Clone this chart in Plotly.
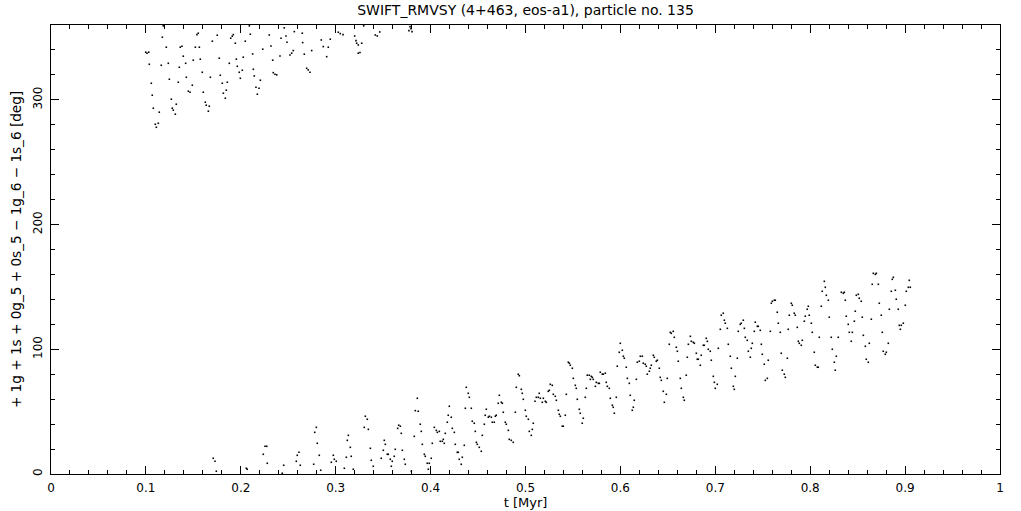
import plotly.graph_objects as go

TITLE = "SWIFT_RMVSY (4+463, eos-a1), particle no. 135"
X_LABEL = "t [Myr]"
Y_LABEL = "+ 1g + 1s + 0g_5 + 0s_5 \u2212 1g_6 \u2212 1s_6 [deg]"

x_tickvals = [0, 0.1, 0.2, 0.3, 0.4, 0.5, 0.6, 0.7, 0.8, 0.9, 1]
x_ticktext = ["0", "0.1", "0.2", "0.3", "0.4", "0.5", "0.6", "0.7", "0.8", "0.9", "1"]
y_tickvals = [0, 100, 200, 300]
y_ticktext = ["0", "100", "200", "300"]

# upper branch (angle near 280-360 deg)
t_upper = [
    0.1183, 0.1173, 0.1538, 0.1552, 0.1752, 0.1921, 0.1910, 0.1894, 0.1700, 0.1942,
    0.2047, 0.1215, 0.1362, 0.1380, 0.1521, 0.1563, 0.0998, 0.1012, 0.1030, 0.1394,
    0.1499, 0.1573, 0.1773, 0.2026, 0.1953, 0.1036, 0.1236, 0.1162, 0.1419, 0.1879,
    0.1352, 0.1963, 0.2016, 0.1984, 0.1594, 0.1784, 0.1679, 0.1426, 0.1995, 0.1247,
    0.1057, 0.1341, 0.1858, 0.1805, 0.1489, 0.1847, 0.1816, 0.1837, 0.1447, 0.1465,
    0.1605, 0.1067, 0.1268, 0.1626, 0.1636, 0.1668, 0.1658, 0.1320, 0.1078, 0.1278,
    0.1289, 0.1141, 0.1310, 0.1131, 0.1099, 0.1110, 0.2090, 0.2458, 0.3295, 0.3783,
    0.3793, 0.3804, 0.3772, 0.2100, 0.2300, 0.2424, 0.2476, 0.2564, 0.2648, 0.3027,
    0.3048, 0.3077, 0.3200, 0.3417, 0.3438, 0.3464, 0.2487, 0.2652, 0.2848, 0.2943,
    0.3214, 0.2318, 0.2869, 0.2922, 0.3221, 0.3238, 0.3274, 0.2231, 0.2553, 0.2536,
    0.2518, 0.2747, 0.2125, 0.2413, 0.2669, 0.2905, 0.3238, 0.3256, 0.2336, 0.2132,
    0.2694, 0.2711, 0.2729, 0.2142, 0.2342, 0.2360, 0.2378, 0.2206, 0.2160, 0.2192,
    0.2174,
]
angle_upper = [
    359.3, 350.2, 352.3, 353.4, 351.8, 352.3, 351.0, 349.4, 347.0, 345.4,
    347.0, 342.2, 342.2, 343.0, 342.2, 342.2, 338.2, 337.4, 338.2, 335.0,
    331.8, 332.6, 333.4, 334.2, 332.6, 328.5, 329.3, 327.7, 329.3, 329.3,
    326.1, 326.9, 323.7, 322.1, 322.1, 319.7, 318.1, 318.1, 317.3, 316.5,
    313.3, 314.1, 314.1, 313.3, 311.7, 307.7, 305.3, 301.3, 306.9, 306.1,
    306.1, 303.7, 300.5, 298.1, 295.7, 294.9, 290.9, 296.5, 293.3, 293.3,
    291.7, 290.1, 288.5, 281.2, 280.4, 278.0, 359.3, 357.7, 359.3, 358.7,
    357.1, 354.7, 355.5, 352.6, 352.0, 349.4, 351.2, 354.7, 353.4, 354.2,
    353.1, 352.3, 351.2, 352.0, 351.2, 354.4, 346.2, 345.9, 348.0, 348.6,
    347.5, 343.2, 342.7, 342.2, 345.4, 344.0, 345.4, 340.6, 339.5, 337.4,
    336.0, 339.5, 336.8, 335.2, 336.6, 334.6, 337.4, 337.9, 331.8, 324.5,
    325.3, 324.0, 322.1, 319.2, 321.8, 320.5, 320.0, 315.7, 310.1, 309.3,
    304.5,
]

# lower branch (angle rising from ~0 to ~160 deg)
t_lower = [
    0.1710, 0.1728, 0.1742, 0.2058, 0.2068, 0.2255, 0.2273, 0.2237, 0.2279, 0.2452,
    0.2437, 0.2595, 0.2613, 0.2585, 0.2627, 0.2796, 0.2779, 0.2806, 0.2827, 0.2768,
    0.2842, 0.2975, 0.2985, 0.3006, 0.2954, 0.3091, 0.3112, 0.3122, 0.3133, 0.3154,
    0.3164, 0.3185, 0.3301, 0.3312, 0.3333, 0.3344, 0.3365, 0.3375, 0.3396, 0.3480,
    0.3502, 0.3512, 0.3523, 0.3544, 0.3554, 0.3575, 0.3586, 0.3596, 0.3617, 0.3628,
    0.3653, 0.3664, 0.3681, 0.3691, 0.3702, 0.3723, 0.3733, 0.3797, 0.3828, 0.3839,
    0.3860, 0.3870, 0.3891, 0.3902, 0.3913, 0.3934, 0.3944, 0.3965, 0.3986, 0.3976,
    0.4007, 0.4018, 0.4039, 0.4060, 0.4071, 0.4092, 0.4102, 0.4123, 0.4134, 0.4144,
    0.4155, 0.4176, 0.4186, 0.4197, 0.4218, 0.4229, 0.4250, 0.4260, 0.4281, 0.4292,
    0.4302, 0.4323, 0.4334, 0.4355, 0.4366, 0.4376, 0.4397, 0.4408, 0.4429, 0.4439,
    0.4460, 0.4471, 0.4482, 0.4492, 0.4513, 0.4534, 0.4545, 0.4566, 0.4576, 0.4587,
    0.4608, 0.4619, 0.4640, 0.4650, 0.4671, 0.4682, 0.4692, 0.4713, 0.4724, 0.4745,
    0.4756, 0.4766, 0.4787, 0.4798, 0.4819, 0.4829, 0.4850, 0.4871, 0.4893, 0.4903,
    0.4924, 0.4935, 0.4956, 0.4966, 0.4977, 0.4998, 0.5008, 0.5030, 0.5040, 0.5061,
    0.5072, 0.5082, 0.5100, 0.5114, 0.5135, 0.5145, 0.5156, 0.5177, 0.5188, 0.5209,
    0.5219, 0.5240, 0.5251, 0.5261, 0.5282, 0.5293, 0.5314, 0.5325, 0.5346, 0.5356,
    0.5367, 0.5388, 0.5398, 0.5419, 0.5430, 0.5451, 0.5462, 0.5472, 0.5493, 0.5504,
    0.5525, 0.5535, 0.5546, 0.5567, 0.5577, 0.5598, 0.5609, 0.5630, 0.5641, 0.5651,
    0.5672, 0.5683, 0.5693, 0.5704, 0.5714, 0.5736, 0.5746, 0.5767, 0.5778, 0.5788,
    0.5809, 0.5820, 0.5841, 0.5851, 0.5862, 0.5883, 0.5894, 0.5915, 0.5925, 0.5936,
    0.5957, 0.5967, 0.5988, 0.5999, 0.6020, 0.6031, 0.6041, 0.6062, 0.6073, 0.6094,
    0.6104, 0.6125, 0.6136, 0.6146, 0.6168, 0.6178, 0.6199, 0.6210, 0.6231, 0.6241,
    0.6262, 0.6273, 0.6283, 0.6305, 0.6315, 0.6326, 0.6347, 0.6357, 0.6378, 0.6389,
    0.6410, 0.6420, 0.6431, 0.6452, 0.6463, 0.6484, 0.6494, 0.6515, 0.6526, 0.6536,
    0.6557, 0.6568, 0.6589, 0.6600, 0.6610, 0.6631, 0.6642, 0.6663, 0.6673, 0.6694,
    0.6705, 0.6716, 0.6737, 0.6747, 0.6768, 0.6779, 0.6800, 0.6810, 0.6821, 0.6842,
    0.6852, 0.6874, 0.6884, 0.6905, 0.6916, 0.6926, 0.6947, 0.6958, 0.6979, 0.6990,
    0.7000, 0.7021, 0.7032, 0.7053, 0.7063, 0.7084, 0.7095, 0.7105, 0.7127, 0.7137,
    0.7158, 0.7169, 0.7190, 0.7200, 0.7211, 0.7232, 0.7242, 0.7263, 0.7274, 0.7295,
    0.7306, 0.7316, 0.7337, 0.7348, 0.7369, 0.7379, 0.7390, 0.7411, 0.7421, 0.7443,
    0.7453, 0.7474, 0.7485, 0.7495, 0.7516, 0.7527, 0.7548, 0.7558, 0.7580, 0.7590,
    0.7601, 0.7622, 0.7632, 0.7653, 0.7664, 0.7685, 0.7695, 0.7706, 0.7727, 0.7738,
    0.7759, 0.7769, 0.7780, 0.7801, 0.7811, 0.7832, 0.7843, 0.7864, 0.7875, 0.7885,
    0.7906, 0.7917, 0.7938, 0.7948, 0.7969, 0.7980, 0.7990, 0.8012, 0.8022, 0.8043,
    0.8054, 0.8075, 0.8085, 0.8096, 0.8117, 0.8127, 0.8149, 0.8159, 0.8170, 0.8191,
    0.8201, 0.8222, 0.8233, 0.8254, 0.8264, 0.8275, 0.8296, 0.8328, 0.8349, 0.8359,
    0.8370, 0.8380, 0.8401, 0.8412, 0.8433, 0.8444, 0.8465, 0.8475, 0.8486, 0.8507,
    0.8517, 0.8538, 0.8549, 0.8560, 0.8581, 0.8591, 0.8612, 0.8623, 0.8644, 0.8654,
    0.8665, 0.8686, 0.8697, 0.8718, 0.8728, 0.8749, 0.8760, 0.8770, 0.8791, 0.8802,
    0.8823, 0.8834, 0.8855, 0.8865, 0.8876, 0.8897, 0.8907, 0.8928, 0.8939, 0.8950,
    0.8960, 0.8981, 0.9002, 0.9013, 0.9034, 0.9055, 0.9044,
]
angle_lower = [
    12.6, 10.2, 2.2, 4.6, 3.8, 22.2, 22.2, 15.8, 8.6, 7.0,
    0.6, 15.0, 17.4, 10.2, 7.0, 37.4, 33.4, 24.6, 15.0, 7.8,
    3.0, 15.0, 11.8, 10.2, 9.4, 4.6, 13.4, 27.0, 31.0, 21.4,
    14.2, 3.8, 37.4, 46.3, 43.9, 35.8, 20.6, 11.0, 6.2, 12.6,
    19.0, 27.0, 23.8, 15.8, 15.8, 11.8, 6.2, 10.2, 14.2, 19.8,
    36.6, 39.1, 38.3, 32.6, 19.0, 11.8, 7.8, 2.2, 30.2, 50.8,
    60.7, 50.3, 39.9, 34.2, 23.8, 15.8, 14.2, 8.6, 8.6, 3.8,
    12.6, 24.6, 37.4, 35.0, 33.4, 34.2, 26.2, 26.2, 27.8, 24.6,
    32.6, 41.5, 47.1, 54.3, 45.5, 36.6, 33.4, 23.8, 17.4, 17.4,
    11.8, 7.8, 13.4, 23.0, 52.7, 69.5, 64.7, 61.5, 52.7, 42.3,
    40.7, 34.2, 25.4, 23.8, 21.4, 18.2, 31.0, 39.9, 47.1, 51.9,
    45.5, 46.3, 45.5, 41.5, 41.5, 46.3, 47.1, 56.7, 63.1, 57.5,
    56.7, 49.5, 41.5, 39.9, 35.0, 27.8, 27.0, 25.4, 49.5, 69.5,
    80.0, 78.8, 67.9, 64.7, 59.9, 51.1, 46.3, 43.9, 34.2, 31.0,
    35.8, 40.7, 58.3, 61.5, 61.5, 64.7, 60.7, 57.5, 60.7, 58.3,
    57.5, 66.3, 67.1, 71.9, 71.1, 63.9, 62.3, 59.1, 51.1, 47.9,
    46.3, 38.3, 38.3, 47.1, 63.9, 89.6, 88.8, 87.2, 84.8, 76.7,
    71.1, 68.7, 59.9, 51.9, 48.7, 40.7, 44.7, 61.5, 68.7, 79.2,
    79.2, 75.9, 78.3, 77.5, 75.9, 70.3, 73.5, 72.7, 72.7, 81.6,
    80.0, 80.0, 80.8, 73.5, 70.3, 68.7, 60.7, 55.1, 53.5, 48.7,
    61.5, 86.4, 97.6, 104.8, 99.2, 94.4, 92.8, 85.6, 76.7, 72.7,
    63.1, 51.1, 53.5, 59.1, 75.9, 89.6, 90.4, 94.4, 94.4, 88.8,
    88.0, 86.4, 80.0, 82.4, 84.8, 87.2, 95.2, 93.6, 90.4, 91.2,
    84.8, 77.5, 75.1, 66.3, 57.5, 63.9, 76.7, 104.0, 113.6, 112.8,
    114.4, 109.6, 101.6, 98.4, 90.4, 76.7, 68.7, 61.5, 59.1, 79.2,
    93.6, 104.0, 110.4, 106.4, 105.6, 104.8, 96.8, 92.0, 92.0, 87.2,
    95.2, 103.2, 103.2, 108.8, 106.4, 100.0, 98.4, 91.2, 78.3, 73.5,
    68.7, 71.9, 100.8, 116.0, 127.3, 128.9, 123.3, 120.9, 116.8, 104.0,
    94.4, 84.8, 70.3, 67.9, 78.3, 92.8, 114.4, 120.0, 120.9, 123.3,
    116.8, 109.6, 107.2, 98.4, 93.6, 100.8, 104.8, 114.4, 121.7, 118.4,
    118.4, 115.2, 104.0, 96.0, 88.0, 75.1, 76.7, 91.2, 114.4, 136.9,
    138.5, 139.3, 139.3, 129.7, 120.9, 113.6, 96.8, 83.2, 80.0, 77.5,
    92.8, 116.0, 127.3, 136.9, 135.3, 128.9, 127.3, 117.6, 106.4, 104.8,
    103.2, 107.2, 122.5, 126.5, 132.1, 134.5, 127.3, 120.9, 113.6, 97.6,
    87.2, 85.6, 85.6, 109.6, 134.5, 146.5, 154.5, 149.7, 143.3, 139.3,
    125.7, 109.6, 100.0, 89.6, 83.2, 94.4, 109.6, 145.7, 144.9, 145.7,
    139.3, 126.5, 120.0, 113.6, 106.4, 113.6, 122.5, 130.5, 143.3, 144.1,
    140.9, 138.5, 125.7, 111.2, 102.4, 92.0, 89.6, 104.8, 124.1, 152.1,
    160.9, 160.1, 160.9, 152.1, 136.9, 127.3, 113.6, 98.4, 96.0, 97.6,
    104.8, 132.1, 146.5, 156.1, 157.7, 147.3, 140.1, 132.1, 119.2, 116.0,
    119.2, 120.9, 135.3, 146.5, 149.7, 149.7, 155.3,
]

t_all = t_upper + t_lower
angle_all = angle_upper + angle_lower

FONT = "DejaVu Sans"

fig = go.Figure(
    go.Scatter(
        x=t_all,
        y=angle_all,
        mode="markers",
        marker=dict(symbol="square", size=1.6, color="black", line=dict(width=0)),
        hoverinfo="x+y",
    )
)

axis_common = dict(
    showgrid=False,
    zeroline=False,
    showline=True,
    linecolor="black",
    linewidth=1,
    mirror="allticks",
    ticks="inside",
    ticklen=8,
    tickwidth=1,
    tickcolor="black",
    automargin=False,
    tickfont=dict(family=FONT, size=12, color="black"),
)

fig.update_layout(
    width=1021,
    height=511,
    paper_bgcolor="white",
    plot_bgcolor="white",
    margin=dict(l=51, r=21, t=25, b=37),
    showlegend=False,
    title=dict(
        text=TITLE,
        x=0.5,
        xref="paper",
        xanchor="center",
        y=1 - 10 / 511,
        yref="container",
        yanchor="middle",
        font=dict(family=FONT, size=14, color="black"),
    ),
    xaxis=dict(
        range=[0, 1],
        tickvals=x_tickvals,
        ticktext=x_ticktext,
        ticklabelstandoff=3,
        minor=dict(dtick=0.02, ticks="inside", ticklen=4, tickcolor="black", showgrid=False),
        title=dict(text=X_LABEL, font=dict(family=FONT, size=13, color="black"), standoff=3),
        **axis_common,
    ),
    yaxis=dict(
        range=[0, 360],
        tickvals=y_tickvals,
        ticktext=y_ticktext,
        tickangle=-90,
        ticklabelstandoff=3,
        minor=dict(dtick=20, ticks="inside", ticklen=4, tickcolor="black", showgrid=False),
        title=dict(text=Y_LABEL, font=dict(family=FONT, size=13.6, color="black"), standoff=6),
        **axis_common,
    ),
)

fig.write_html(
    "out.html",
    config={"displayModeBar": False},
    post_script="document.body.style.margin='0';document.body.style.padding='0';",
)
